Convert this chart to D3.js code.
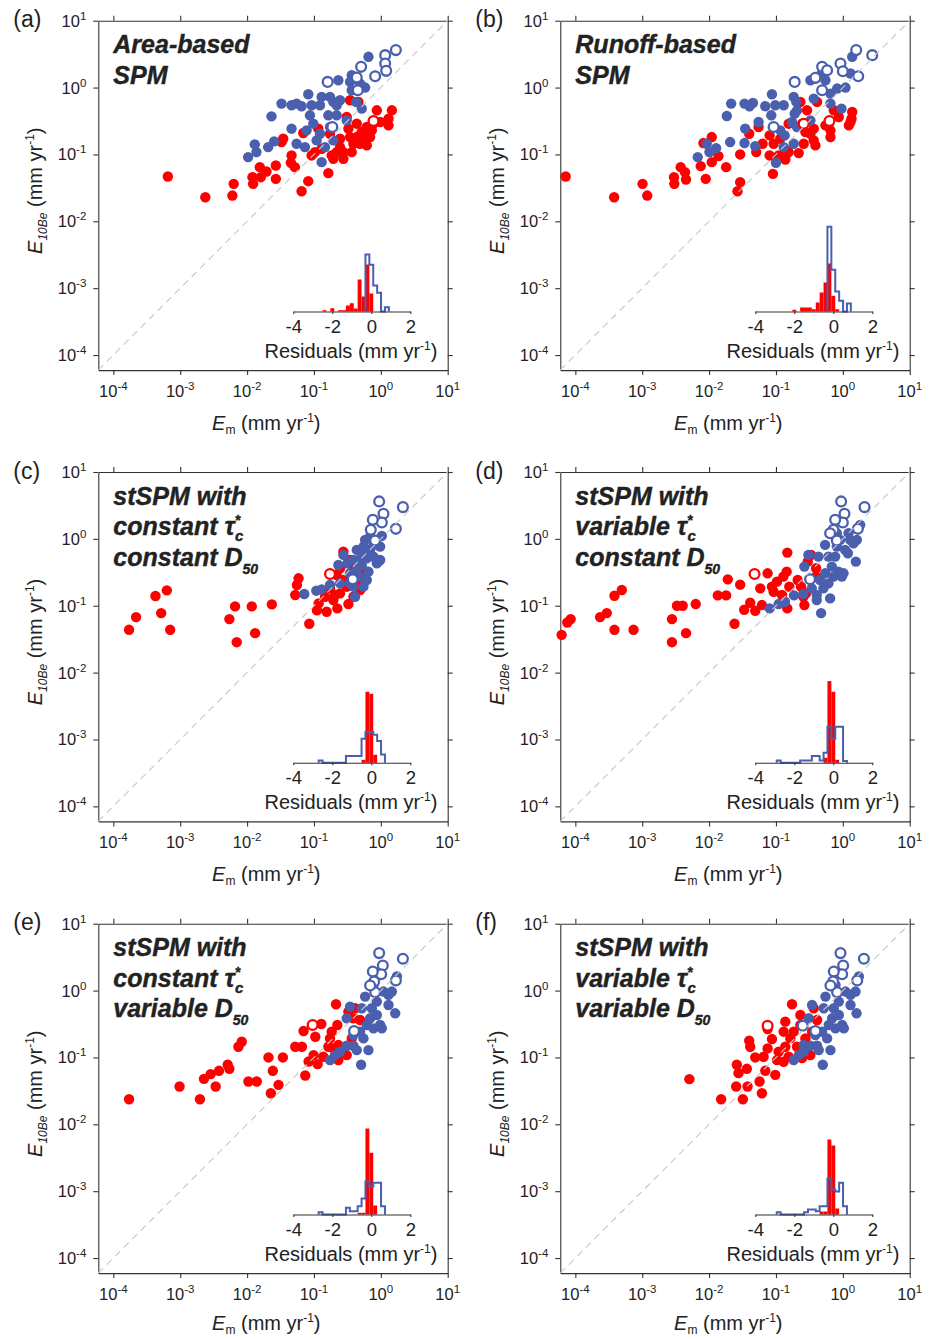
<!DOCTYPE html>
<html>
<head>
<meta charset="utf-8">
<script src="https://cdn.jsdelivr.net/npm/d3@7"></script>
<style>
body { margin: 0; background: #fff; }
svg { font-family: "Liberation Sans", Arial, Helvetica, sans-serif; }
</style>
</head>
<body>
<svg id="fig" width="934" height="1339"></svg>
<script>
// points are [log10 Em, log10 E10Be] (mm/yr)
var aRed = [[-3.185,-1.33],[-2.625,-1.64],[-2.22,-1.615],[-2.2,-1.44],[-1.91,-1.44],[-1.92,-1.34],[-1.81,-1.19],[-1.71,-1.255],[-1.795,-1.34],[-1.57,-1.165],[-1.57,-1.365],[-1.46,-0.765],[-1.485,-0.815],[-1.335,-1.015],[-1.345,-1.125],[-1.285,-1.19],[-1.185,-1.55],[-1.085,-1.4],[-1.16,-0.68],[-0.985,-0.965],[-0.935,-0.615],[-0.785,-1.28],[-0.735,-1.015],[-0.71,-1.065],[-0.66,-0.965],[-0.56,-1.065],[-0.56,-0.965],[-0.435,-0.965],[-0.41,-0.84],[-0.46,-0.74],[-0.485,-0.615],[-0.36,-0.74],[-0.31,-0.84],[-0.285,-0.665],[-0.235,-0.74],[-0.21,-0.865],[-0.16,-0.74],[-0.135,-0.64],[-0.11,-0.54],[-0.51,-0.44],[-0.46,-0.19],[-0.335,-0.215],[-0.36,-0.54],[-0.06,-0.34],[0.115,-0.465],[0.165,-0.34],[0.115,-0.565],[-0.01,-0.515],[-0.21,-0.59],[-0.885,-0.915],[-1.035,-1.015],[-0.61,-0.89],[-0.61,-0.765],[-0.76,-0.69]];
var aRedOpen = [[-0.11,-0.5]];
var aBlue = [[-1.985,-1.04],[-1.86,-0.965],[-1.885,-0.85],[-1.685,-0.89],[-1.635,-0.43],[-1.595,-0.805],[-1.485,-0.24],[-1.335,-0.265],[-1.26,-0.24],[-1.185,-0.28],[-1.085,-0.1],[-1.035,-0.265],[-0.91,-0.265],[-1.335,-0.615],[-1.26,-0.84],[-1.135,-0.89],[-1.06,-0.415],[-1.11,-0.64],[-1.01,-0.54],[-0.91,-0.69],[-0.96,-0.79],[-0.835,-0.89],[-0.885,-1.115],[-0.785,-0.415],[-0.76,-0.14],[-0.71,-0.215],[-0.66,-0.265],[-0.61,-0.19],[-0.635,0.11],[-0.46,0.085],[-0.435,-0.04],[-0.37,-0.215],[-0.285,-0.315],[-0.235,0],[-0.185,0.46],[-0.76,-0.59],[-0.71,-0.79],[-0.66,-0.415],[-0.885,-0.14],[-0.51,-0.49],[-0.435,0.185],[-0.31,0.06]];
var aBlueOpen = [[-0.795,0.085],[-0.36,0.15],[-0.295,0.31],[-0.085,0.17],[0.065,0.485],[0.065,0.36],[0.08,0.25],[0.225,0.56],[-0.345,-0.04],[-0.725,-0.59]];

var bRed = [[-4.145,-1.33],[-3.42,-1.64],[-2.995,-1.44],[-2.925,-1.615],[-2.525,-1.34],[-2.52,-1.44],[-2.425,-1.19],[-2.36,-1.265],[-2.345,-1.375],[-2.085,-0.83],[-2.125,-1.175],[-2.05,-1.365],[-1.96,-0.74],[-1.96,-1.115],[-1.86,-1.025],[-1.745,-1.19],[-1.535,-1.0],[-1.535,-1.415],[-1.575,-1.55],[-1.4,-0.69],[-1.295,-0.965],[-1.26,-0.59],[-1.2,-0.84],[-1.095,-1.015],[-1.095,-0.715],[-1.035,-0.84],[-1.045,-1.29],[-0.96,-1.015],[-0.935,-0.765],[-0.86,-1.075],[-0.81,-0.965],[-0.81,-0.54],[-0.66,-0.98],[-0.635,-0.215],[-0.61,-0.54],[-0.56,-0.665],[-0.535,-0.34],[-0.585,-0.84],[-0.435,-0.79],[-0.435,-0.615],[-0.485,-0.69],[-0.41,-0.865],[-0.385,-0.215],[-0.26,-0.565],[-0.185,-0.64],[-0.185,-0.74],[-0.135,-0.34],[-0.06,-0.44],[0.14,-0.365],[0.13,-0.465],[0.09,-0.565],[0.115,-0.515],[-0.21,-0.54],[-0.86,-0.93]];
var bRedOpen = [[-0.585,-0.54],[-0.2,-0.5]];
var bBlue = [[-2.17,-1.04],[-2.035,-0.84],[-1.995,-0.965],[-1.895,-0.905],[-1.735,-0.425],[-1.67,-0.24],[-1.685,-0.815],[-1.47,-0.24],[-1.395,-0.28],[-1.345,-0.23],[-1.47,-0.83],[-1.46,-0.615],[-1.31,-0.875],[-1.26,-0.515],[-1.16,-0.28],[-1.06,-0.1],[-1.01,-0.265],[-0.885,-0.265],[-1.07,-0.415],[-1.0,-1.125],[-0.935,-0.64],[-0.885,-0.89],[-0.735,-0.14],[-0.695,-0.215],[-0.72,-0.39],[-0.76,-0.515],[-0.735,-0.84],[-0.685,-0.59],[-0.485,-0.49],[-0.435,-0.165],[-0.485,0.11],[-0.26,0.11],[-0.185,-0.24],[-0.185,-0.09],[-0.085,-0.015],[0.04,0],[-0.02,-0.315],[0.14,0.46],[0.115,0.21],[-0.335,0.185],[-0.87,-0.715],[-0.685,-0.34]];
var bBlueOpen = [[-0.72,0.085],[-0.41,0.145],[-0.31,0.31],[-0.235,0.26],[-0.035,0.36],[0,0.245],[0.23,0.17],[0.2,0.56],[0.44,0.485],[-0.31,-0.04],[-1.035,-0.59]];

var cRed = [[-3.765,-1.36],[-3.66,-1.17],[-3.37,-0.855],[-3.2,-0.77],[-3.285,-1.11],[-3.15,-1.36],[-2.265,-1.2],[-2.18,-1.01],[-2.155,-1.545],[-1.93,-1.01],[-1.88,-1.41],[-1.63,-0.98],[-1.28,-0.84],[-1.255,-0.69],[-1.23,-0.59],[-1.07,-1.27],[-0.955,-1.07],[-0.93,-0.965],[-0.81,-1.09],[-0.65,-1.04],[-0.485,-0.975],[-0.71,-0.915],[-0.61,-0.815],[-0.76,-0.74],[-0.51,-0.715],[-0.56,-0.615],[-0.66,-0.54],[-0.46,-0.515],[-0.56,-0.19],[-0.46,-0.315],[-0.41,-0.415],[-0.36,-0.615],[-0.31,-0.765],[-0.26,-0.59],[-0.335,-0.49],[-0.21,-0.49],[-0.685,-0.84],[-0.41,-0.865],[-0.835,-0.865],[-0.61,-0.44]];
var cRedOpen = [[-0.76,-0.525]];
var cBlue = [[-1.145,-0.825],[-0.965,-0.775],[-0.885,-0.755],[-0.76,-0.69],[-0.61,-0.665],[-0.635,-0.39],[-0.56,-0.24],[-0.5,-0.365],[-0.41,-0.315],[-0.36,-0.165],[-0.385,-0.865],[-0.41,-0.715],[-0.31,-0.565],[-0.285,-0.39],[-0.235,-0.015],[-0.21,-0.29],[-0.185,-0.49],[-0.16,-0.165],[-0.11,-0.265],[-0.06,-0.365],[-0.01,-0.315],[-0.01,-0.115],[-0.025,-0.33],[-0.46,-0.515],[-0.36,-0.465],[-0.26,-0.715],[-0.16,0.035],[-0.26,-0.115],[-0.11,-0.09],[0.015,0.045],[-0.285,-0.215],[-0.46,-0.665],[-0.21,-0.615],[-0.335,-0.315]];
var cBlueOpen = [[-0.025,0.56],[0.33,0.475],[0.04,0.375],[0.015,0.245],[-0.12,0.285],[0.225,0.15],[-0.15,0.135],[-0.085,-0.025],[-0.42,-0.605]];

var dRed = [[-4.205,-1.435],[-4.12,-1.25],[-4.07,-1.2],[-3.63,-1.17],[-3.53,-1.11],[-3.415,-0.85],[-3.305,-0.765],[-3.415,-1.36],[-3.13,-1.36],[-2.555,-1.2],[-2.48,-1.0],[-2.395,-1.0],[-2.2,-0.975],[-2.555,-1.545],[-2.345,-1.41],[-1.87,-0.845],[-1.745,-0.845],[-1.72,-0.605],[-1.535,-0.685],[-1.62,-1.27],[-1.475,-1.06],[-1.385,-0.955],[-1.31,-1.075],[-1.235,-0.74],[-1.21,-0.99],[-1.125,-0.515],[-1.06,-0.715],[-0.985,-0.64],[-1.035,-0.79],[-0.91,-0.84],[-0.83,-0.205],[-0.84,-0.49],[-0.83,-1.04],[-0.8,-0.715],[-0.675,-0.615],[-0.625,-0.715],[-0.575,-0.99],[-0.55,-0.815],[-0.525,-0.34],[-0.475,-0.24],[-0.4,-0.44],[-0.4,-0.565],[-0.89,-0.565],[-0.59,-0.865]];
var dRedOpen = [[-1.32,-0.525]];
var dBlue = [[-1.095,-1.04],[-0.96,-0.975],[-0.865,-0.94],[-0.73,-0.845],[-0.59,-0.825],[-0.575,-0.415],[-0.515,-0.24],[-0.39,-0.84],[-0.39,-0.915],[-0.325,-1.11],[-0.34,-0.615],[-0.265,-0.09],[-0.365,-0.265],[-0.265,-0.515],[-0.215,-0.665],[-0.215,-0.265],[-0.19,-0.89],[-0.165,-0.415],[-0.14,-0.565],[-0.115,-0.265],[-0.09,-0.115],[-0.065,-0.49],[-0.015,-0.565],[0.01,-0.515],[0.035,-0.165],[0.075,-0.215],[0.11,-0.015],[0.16,-0.065],[0.21,-0.015],[0.195,-0.34],[0.085,0.085],[-0.04,-0.015],[-0.29,-0.74],[-0.465,-0.74],[-0.09,0.085],[0.26,0.21]];
var dBlueOpen = [[-0.025,0.56],[0.325,0.475],[0.025,0.375],[0,0.245],[-0.115,0.285],[0.225,0.15],[-0.14,0.135],[-0.09,-0.025],[-0.49,-0.605],[-0.19,0.085]];

var eRed = [[-3.765,-1.625],[-3.01,-1.435],[-2.705,-1.625],[-2.645,-1.32],[-2.545,-1.25],[-2.47,-1.435],[-2.42,-1.2],[-2.29,-1.11],[-2.265,-1.17],[-2.13,-0.84],[-2.08,-0.765],[-1.98,-1.36],[-1.855,-1.36],[-1.68,-1.0],[-1.645,-1.535],[-1.615,-1.2],[-1.53,-1.41],[-1.465,-1.0],[-1.28,-0.84],[-1.18,-0.84],[-1.13,-1.27],[-1.155,-0.605],[-0.98,-0.69],[-1.005,-0.965],[-1.08,-1.06],[-0.945,-1.1],[-0.89,-0.5],[-0.86,-0.99],[-0.785,-0.84],[-0.76,-0.715],[-0.735,-0.615],[-0.67,-0.205],[-0.65,-0.515],[-0.635,-0.815],[-0.635,-1.04],[-0.56,-0.915],[-0.51,-0.965],[-0.485,-0.315],[-0.41,-0.415],[-0.385,-0.265],[-0.435,-0.715],[-0.31,-0.44],[-0.71,-0.865]];
var eRedOpen = [[-1.02,-0.515]];
var eBlue = [[-0.76,-1.04],[-0.685,-0.965],[-0.61,-0.915],[-0.51,-0.825],[-0.41,-0.825],[-0.46,-0.24],[-0.51,-0.415],[-0.36,-0.89],[-0.295,-1.11],[-0.285,-0.265],[-0.235,-0.09],[-0.31,-0.615],[-0.26,-0.715],[-0.21,-0.515],[-0.185,-0.89],[-0.16,-0.415],[-0.135,-0.265],[-0.11,-0.565],[-0.06,-0.165],[-0.01,-0.515],[0.015,-0.565],[0.04,-0.015],[0.115,-0.065],[0.165,-0.015],[0.115,-0.215],[0.215,-0.34],[-0.11,0.085],[-0.41,-0.665],[0.24,0.21],[-0.06,-0.365]];
var eBlueOpen = [[-0.025,0.56],[0.33,0.475],[0.03,0.375],[0.005,0.245],[-0.12,0.285],[0.225,0.15],[-0.1,0.135],[-0.085,-0.025],[-0.4,-0.605],[-0.16,0.075]];

var fRed = [[-2.295,-1.325],[-1.82,-1.625],[-1.495,-1.625],[-1.585,-1.11],[-1.56,-1.235],[-1.595,-1.435],[-1.435,-1.17],[-1.425,-1.435],[-1.4,-0.75],[-1.385,-0.84],[-1.31,-1.0],[-1.245,-1.36],[-1.21,-1.535],[-1.185,-0.99],[-1.16,-1.2],[-1.125,-0.865],[-1.125,-0.575],[-1.06,-0.725],[-1.01,-1.26],[-0.985,-1.04],[-0.96,-0.915],[-0.885,-0.615],[-0.86,-0.84],[-0.86,-0.465],[-0.81,-0.99],[-0.76,-0.205],[-0.785,-0.715],[-0.735,-0.615],[-0.685,-0.84],[-0.635,-0.515],[-0.61,-1.01],[-0.56,-0.715],[-0.535,-0.865],[-0.485,-0.965],[-0.435,-0.265],[-0.385,-0.44],[-0.46,-0.615],[-0.635,-0.365],[-0.885,-1.065]];
var fRedOpen = [[-1.125,-0.525]];
var fBlue = [[-0.735,-1.04],[-0.66,-0.965],[-0.585,-0.915],[-0.485,-0.825],[-0.385,-0.825],[-0.46,-0.215],[-0.51,-0.415],[-0.36,-0.89],[-0.3,-1.11],[-0.26,-0.09],[-0.285,-0.265],[-0.31,-0.615],[-0.235,-0.715],[-0.21,-0.515],[-0.185,-0.89],[-0.16,-0.415],[-0.135,-0.265],[-0.11,-0.565],[-0.06,-0.165],[-0.01,-0.515],[0.015,-0.565],[0.04,-0.015],[0.115,-0.065],[0.19,-0.015],[0.115,-0.215],[0.205,-0.34],[-0.11,0.085],[-0.41,-0.665],[0.24,0.21],[-0.06,-0.365],[-0.585,-0.815]];
var fBlueOpen = [[-0.035,0.56],[0.315,0.475],[0.005,0.375],[-0.01,0.245],[-0.135,0.285],[0.215,0.15],[-0.145,0.135],[-0.085,-0.025],[-0.41,-0.605],[-0.185,0.075],[-0.6,-0.525]];

// residual histograms: [bin centre (mm/yr), relative height], bins 0.2 wide
var aHistRed = [[-2.4,.013],[-2.0,.033],[-1.6,.013],[-1.4,.013],[-1.2,.06],[-1.0,.083],[-0.8,.03],[-0.6,.32],[-0.4,.15],[-0.2,.47],[0,.18]];
var aHistBlue = [[-0.2,.57],[0,.467],[0.2,.26],[0.4,.187],[0.6,0],[0.8,.043]];
var bHistRed = [[-2.0,.017],[-1.6,.04],[-1.4,.04],[-1.2,.04],[-1.0,.023],[-0.8,.09],[-0.6,.19],[-0.4,.29],[-0.2,.48],[0,.157],[0.2,.023]];
var bHistBlue = [[-0.2,.847],[0,.417],[0.2,.2],[0.4,.107],[0.6,0],[0.8,.08]];
var cHistRed = [[-0.4,.03],[-0.2,.71],[0,.69],[0.2,.08]];
var cHistBlue = [[-2.6,.023],[-1.2,.067],[-1.0,.067],[-0.8,.067],[-0.6,.067],[-0.4,.24],[-0.2,.307],[0,.307],[0.2,.28],[0.4,.217],[0.6,.083]];
var dHistRed = [[-0.4,.05],[-0.2,.817],[0,.71],[0.2,.03]];
var dHistBlue = [[-2.8,.023],[-1.6,.023],[-1.4,.023],[-1.2,.023],[-1.0,.067],[-0.8,.067],[-0.6,.023],[-0.4,.1],[-0.2,.36],[0,.24],[0.2,.36],[0.4,.36],[0.6,.017]];
var eHistRed = [[-0.6,.017],[-0.4,.017],[-0.2,.86],[0,.617],[0.2,.09]];
var eHistBlue = [[-2.6,.023],[-1.2,.067],[-1.0,.033],[-0.8,.033],[-0.6,.083],[-0.4,.16],[-0.2,.33],[0,.28],[0.2,.317],[0.4,.317],[0.6,.083]];
var fHistRed = [[-0.6,.03],[-0.4,.03],[-0.2,.75],[0,.69],[0.2,.06]];
var fHistBlue = [[-2.8,.023],[-1.4,.023],[-1.2,.05],[-1.0,.05],[-0.8,.033],[-0.6,.083],[-0.4,.083],[-0.2,.36],[0,.25],[0.2,.23],[0.4,.317],[0.6,.083]];

var decades = [-4,-3,-2,-1,0,1];
var histTicks = [-4,-2,0,2];

var RED = "#ff0000", BLUE = "#4a5fae", INK = "#222";

var tau = function(word){ return [{t:word + " \u03c4"},{t:"*",sup:10,fs:14},{t:"c",sub:6,fs:15,dx:-5}]; };
var d50 = function(word){ return [{t:word + " D"},{t:"50",sub:8,fs:14}]; };

var panels = [
 {lab:"(a)", col:0, row:0, red:aRed, redOpen:aRedOpen, blue:aBlue, blueOpen:aBlueOpen, hRed:aHistRed, hBlue:aHistBlue,
  title:[[{t:"Area-based"}],[{t:"SPM"}]]},
 {lab:"(b)", col:1, row:0, red:bRed, redOpen:bRedOpen, blue:bBlue, blueOpen:bBlueOpen, hRed:bHistRed, hBlue:bHistBlue,
  title:[[{t:"Runoff-based"}],[{t:"SPM"}]]},
 {lab:"(c)", col:0, row:1, red:cRed, redOpen:cRedOpen, blue:cBlue, blueOpen:cBlueOpen, hRed:cHistRed, hBlue:cHistBlue,
  title:[[{t:"stSPM with"}], tau("constant"), d50("constant")]},
 {lab:"(d)", col:1, row:1, red:dRed, redOpen:dRedOpen, blue:dBlue, blueOpen:dBlueOpen, hRed:dHistRed, hBlue:dHistBlue,
  title:[[{t:"stSPM with"}], tau("variable"), d50("constant")]},
 {lab:"(e)", col:0, row:2, red:eRed, redOpen:eRedOpen, blue:eBlue, blueOpen:eBlueOpen, hRed:eHistRed, hBlue:eHistBlue,
  title:[[{t:"stSPM with"}], tau("constant"), d50("variable")]},
 {lab:"(f)", col:1, row:2, red:fRed, redOpen:fRedOpen, blue:fBlue, blueOpen:fBlueOpen, hRed:fHistRed, hBlue:fHistBlue,
  title:[[{t:"stSPM with"}], tau("variable"), d50("variable")]}
];

var colX = [98.3, 560.3], rowY = [20.7, 472, 923.7], size = 349.4;
var svg = d3.select("#fig");

// rich text: sup/sub offsets in px, reset back to baseline after each piece
function rich(txt, parts){
  var cur = 0;
  parts.forEach(function(p){
    var off = p.sup ? -p.sup : (p.sub ? p.sub : 0);
    var ts = txt.append("tspan").text(p.t).attr("dy", off - cur);
    cur = off;
    if (p.fs) ts.attr("font-size", p.fs);
    if (p.i) ts.attr("font-style", "italic");
    if (p.dx) ts.attr("dx", p.dx);
  });
}

var x = d3.scaleLog().domain([Math.pow(10,-4.225), 10]).range([0, size]);
var y = d3.scaleLog().domain([Math.pow(10,-4.225), 10]).range([size, 0]);
var hx = d3.scaleLinear().domain([-4, 2]).range([195, 312]);
var hy = d3.scaleLinear().domain([0, 1]).range([290.8, 190.8]);
var toVal = function(v){ return Math.pow(10, v); };

function stepPath(bins){
  var pts = [], prevR = null;
  bins.forEach(function(b){
    var l = b[0] - 0.1, r = b[0] + 0.1;
    if (prevR === null || Math.abs(l - prevR) > 1e-6){
      if (prevR !== null) pts.push([prevR, 0]);
      pts.push([l, 0]);
    }
    pts.push([l, b[1]]); pts.push([r, b[1]]);
    prevR = r;
  });
  pts.push([prevR, 0]);
  return d3.line().x(function(d){ return hx(d[0]); }).y(function(d){ return hy(d[1]); })(pts);
}

panels.forEach(function(p){
  var g = svg.append("g").attr("transform", "translate(" + colX[p.col] + "," + rowY[p.row] + ")");
  var tv = decades.map(toVal);

  // axes with outward ticks on all four sides
  var axes = [
    [d3.axisBottom(x), "translate(0," + size + ")"],
    [d3.axisTop(x), null],
    [d3.axisLeft(y), null],
    [d3.axisRight(y), "translate(" + size + ",0)"]
  ];
  axes.forEach(function(a){
    var ag = g.append("g").call(a[0].tickValues(tv).tickSizeInner(5).tickSizeOuter(0).tickFormat(""));
    if (a[1]) ag.attr("transform", a[1]);
    ag.selectAll("path,line").attr("stroke", "#333").attr("stroke-width", 1.1);
  });

  // tick labels 10^n
  g.selectAll(".xl").data(decades).enter().append("text")
    .attr("x", function(d){ return x(toVal(d)); }).attr("y", size + 27)
    .attr("text-anchor", "middle").attr("font-size", 16.5).attr("fill", INK)
    .each(function(d){ rich(d3.select(this), [{t:"10"},{t:String(d), sup:7, fs:11.5}]); });
  g.selectAll(".yl").data(decades).enter().append("text")
    .attr("x", -12).attr("y", function(d){ return y(toVal(d)) + 6; })
    .attr("text-anchor", "end").attr("font-size", 16.5).attr("fill", INK)
    .each(function(d){ rich(d3.select(this), [{t:"10"},{t:String(d), sup:7, fs:11.5}]); });

  // axis titles
  rich(g.append("text").attr("x", 168).attr("y", size + (p.row === 2 ? 57 : 60)).attr("text-anchor", "middle")
    .attr("font-size", 20).attr("fill", INK),
    [{t:"E", i:1},{t:"m", sub:4, fs:12},{t:" (mm yr"},{t:"-1", sup:8, fs:12},{t:")"}]);
  rich(g.append("text").attr("transform", "translate(-56,170) rotate(-90)").attr("text-anchor", "middle")
    .attr("font-size", 20).attr("fill", INK),
    [{t:"E", i:1},{t:"10Be", sub:5, fs:12, i:1},{t:" (mm yr"},{t:"-1", sup:8, fs:12},{t:")"}]);

  // panel letter
  g.append("text").attr("x", -85).attr("y", 6.5).attr("font-size", 23).attr("fill", INK).text(p.lab);

  // panel title
  p.title.forEach(function(line, i){
    rich(g.append("text").attr("x", 15).attr("y", 32.5 + 30.5 * i)
      .attr("font-size", 25).attr("font-weight", "bold").attr("font-style", "italic").attr("fill", INK)
      .attr("stroke", INK).attr("stroke-width", 0.4), line);
  });

  // scatter: red, blue, then open symbols
  var pts = g.append("g");
  pts.selectAll(".r").data(p.red).enter().append("circle")
    .attr("cx", function(d){ return x(toVal(d[0])); }).attr("cy", function(d){ return y(toVal(d[1])); })
    .attr("r", 5.2).attr("fill", RED);
  pts.selectAll(".b").data(p.blue).enter().append("circle")
    .attr("cx", function(d){ return x(toVal(d[0])); }).attr("cy", function(d){ return y(toVal(d[1])); })
    .attr("r", 5.2).attr("fill", BLUE);
  pts.selectAll(".ro").data(p.redOpen).enter().append("circle")
    .attr("cx", function(d){ return x(toVal(d[0])); }).attr("cy", function(d){ return y(toVal(d[1])); })
    .attr("r", 4.9).attr("fill", "#fff").attr("stroke", RED).attr("stroke-width", 2.3);
  pts.selectAll(".bo").data(p.blueOpen).enter().append("circle")
    .attr("cx", function(d){ return x(toVal(d[0])); }).attr("cy", function(d){ return y(toVal(d[1])); })
    .attr("r", 4.9).attr("fill", "#fff").attr("stroke", BLUE).attr("stroke-width", 2.3);

  // 1:1 line over the points
  var dm = x.domain();
  g.append("line").attr("x1", x(dm[0])).attr("y1", y(dm[0])).attr("x2", x(dm[1])).attr("y2", y(dm[1]))
    .attr("stroke", "#c8c8c8").attr("stroke-width", 1.1).attr("stroke-dasharray", "7,5");

  // inset histogram of residuals
  var w = hx(0.1) - hx(-0.1);
  g.selectAll(".hr").data(p.hRed).enter().append("rect")
    .attr("x", function(d){ return hx(d[0] - 0.1); }).attr("width", w)
    .attr("y", function(d){ return hy(d[1]); }).attr("height", function(d){ return hy(0) - hy(d[1]); })
    .attr("fill", RED);
  g.append("path").attr("d", stepPath(p.hBlue)).attr("fill", "none")
    .attr("stroke", BLUE).attr("stroke-width", 2);
  var hax = g.append("g").attr("transform", "translate(0," + hy(0) + ")")
    .call(d3.axisBottom(hx).tickValues(histTicks).tickSizeInner(2.5).tickSizeOuter(0).tickPadding(6)
      .tickFormat(function(d){ return String(d); }));
  hax.selectAll("path,line").attr("stroke", "#333").attr("stroke-width", 1.1);
  hax.selectAll("text").attr("font-size", 18.5).attr("fill", INK).attr("font-family", null);
  rich(g.append("text").attr("x", 252.7).attr("y", 337.3).attr("text-anchor", "middle")
    .attr("font-size", 20).attr("fill", INK),
    [{t:"Residuals (mm yr"},{t:"-1", sup:8, fs:12},{t:")"}]);
});
</script>
</body>
</html>
